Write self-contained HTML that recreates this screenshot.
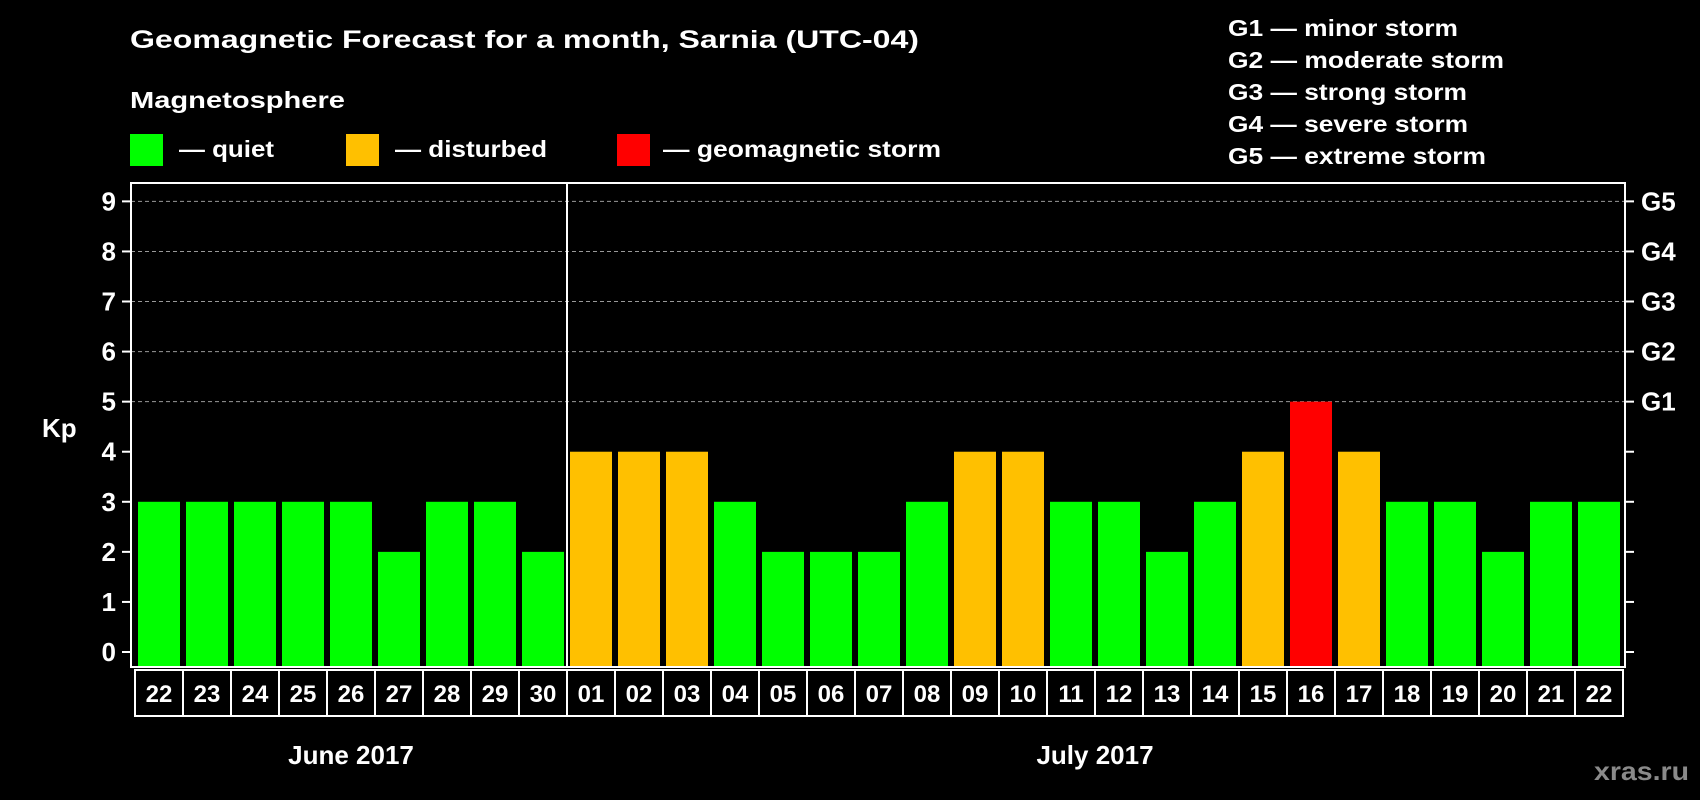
<!DOCTYPE html>
<html><head><meta charset="utf-8"><style>
html,body{margin:0;padding:0;background:#000;}
svg{display:block;font-family:"Liberation Sans",Arial,sans-serif;font-weight:bold;}
</style></head><body>
<svg id="chart" width="1700" height="800" viewBox="0 0 1700 800" xmlns="http://www.w3.org/2000/svg">
<rect width="1700" height="800" fill="#000"/>
<text x="130" y="48" fill="#fff" font-size="25" textLength="789" lengthAdjust="spacingAndGlyphs">Geomagnetic Forecast for a month, Sarnia (UTC-04)</text>
<text x="130" y="108" fill="#fff" font-size="23" textLength="215" lengthAdjust="spacingAndGlyphs">Magnetosphere</text>
<g>
<rect x="130" y="134" width="33" height="32" fill="#00ff00"/>
<text x="179" y="157" fill="#fff" font-size="23" textLength="95" lengthAdjust="spacingAndGlyphs">— quiet</text></g>
<g>
<rect x="346" y="134" width="33" height="32" fill="#ffc000"/>
<text x="395" y="157" fill="#fff" font-size="23" textLength="152" lengthAdjust="spacingAndGlyphs">— disturbed</text></g>
<g>
<rect x="617" y="134" width="33" height="32" fill="#ff0000"/>
<text x="663" y="157" fill="#fff" font-size="23" textLength="278" lengthAdjust="spacingAndGlyphs">— geomagnetic storm</text></g>
<g fill="#fff" font-size="23">
<text x="1228" y="36" textLength="230" lengthAdjust="spacingAndGlyphs">G1 — minor storm</text>
<text x="1228" y="68" textLength="276" lengthAdjust="spacingAndGlyphs">G2 — moderate storm</text>
<text x="1228" y="100" textLength="239" lengthAdjust="spacingAndGlyphs">G3 — strong storm</text>
<text x="1228" y="132" textLength="240" lengthAdjust="spacingAndGlyphs">G4 — severe storm</text>
<text x="1228" y="164" textLength="258" lengthAdjust="spacingAndGlyphs">G5 — extreme storm</text>
</g>
<text x="42" y="437" fill="#fff" font-size="26">Kp</text>
<text x="1594" y="780" fill="#8a8a8a" font-size="26" textLength="95" lengthAdjust="spacingAndGlyphs">xras.ru</text>
<g id="plot"></g>
</svg>
<script>
const days = ["22","23","24","25","26","27","28","29","30","01","02","03","04","05","06","07","08","09","10","11","12","13","14","15","16","17","18","19","20","21","22"];
const kpValues = [3,3,3,3,3,2,3,3,2,4,4,4,3,2,2,2,3,4,4,3,3,2,3,4,5,4,3,3,2,3,3];
const yTicks = [0,1,2,3,4,5,6,7,8,9];
const gLabels = ["G1","G2","G3","G4","G5"];
const gLevels = [5,6,7,8,9];
const months = ["June 2017","July 2017"];
const monthCenters = [4,19.5];

const NS="http://www.w3.org/2000/svg";
const g=document.getElementById('plot');
const PL=131, PR=1625, PT=183, PB=667;
const x0=138, step=48, bw=42;
function xs(i){return x0+i*step;}
function ys(v){return 652 - v*50.07;}
function mk(tag,attrs,parent){const e=document.createElementNS(NS,tag);for(const k in attrs)e.setAttribute(k,attrs[k]);(parent||g).appendChild(e);return e;}
function color(v){return v>=5?"#ff0000":(v>=4?"#ffc000":"#00ff00");}

// grid
gLevels.forEach((v,i)=>{
  const l=mk('line',{x1:PL,x2:PR,y1:ys(v),y2:ys(v),stroke:"#999","stroke-width":1,"stroke-dasharray":"4,3"});
  
  
});
// bars
kpValues.forEach((v,i)=>{
  const r=mk('rect',{x:xs(i),y:ys(v),width:bw,height:PB-ys(v),fill:color(v)});
  
  
});
// frame
const fr=mk('rect',{x:PL,y:PT,width:PR-PL,height:PB-PT,fill:"none",stroke:"#fff","stroke-width":2});


const sep=mk('line',{x1:xs(9)-3,x2:xs(9)-3,y1:PT,y2:PB,stroke:"#fff","stroke-width":2});


// y ticks
yTicks.forEach(v=>{
  const t=mk('line',{x1:PL-9,x2:PL,y1:ys(v),y2:ys(v),stroke:"#fff","stroke-width":2});
  
  
  const t2=mk('line',{x1:PR,x2:PR+9,y1:ys(v),y2:ys(v),stroke:"#fff","stroke-width":2});
  
  
  const tx=mk('text',{x:116,y:ys(v)+9,fill:"#fff","font-size":26,"text-anchor":"end"});
  tx.textContent=v;
  
  
});
gLabels.forEach((s,i)=>{
  const tx=mk('text',{x:1641,y:ys(gLevels[i])+9,fill:"#fff","font-size":26});
  tx.textContent=s;
  
  
});
// x labels
days.forEach((d,i)=>{
  const bx=mk('rect',{x:xs(i)-3,y:670,width:48,height:46,fill:"none",stroke:"#fff","stroke-width":2});
  
  
  const tx=mk('text',{x:xs(i)+bw/2,y:702,fill:"#fff","font-size":24,"text-anchor":"middle"});
  tx.textContent=d;
  
  
});
months.forEach((m,i)=>{
  const tx=mk('text',{x:xs(monthCenters[i])+bw/2,y:764,fill:"#fff","font-size":26,"text-anchor":"middle"});
  tx.textContent=m;
  
  
});
</script>
</body></html>
